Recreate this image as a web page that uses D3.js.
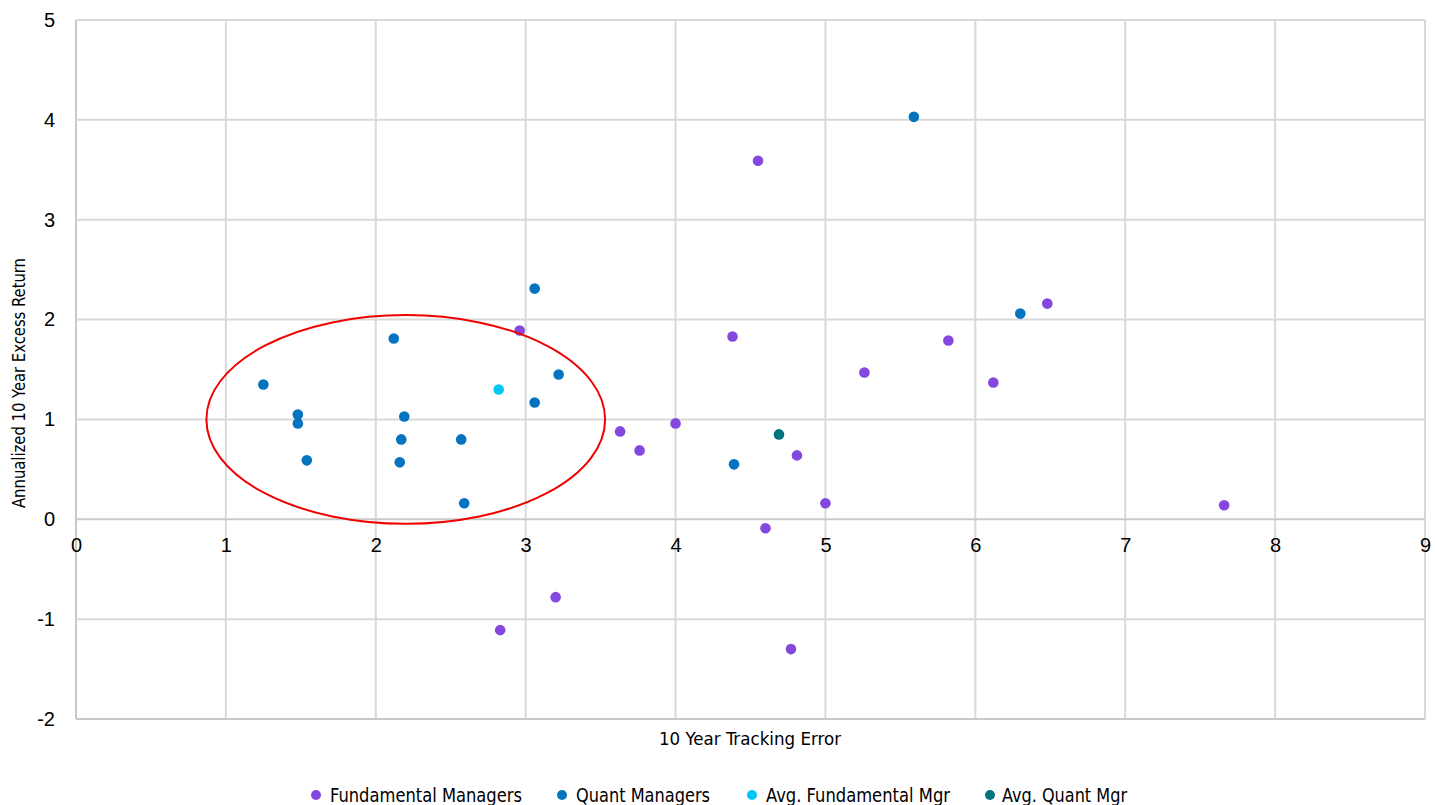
<!DOCTYPE html>
<html>
<head>
<meta charset="utf-8">
<script src="https://d3js.org/d3.v7.min.js"></script>
<style>
  body { margin: 0; background: #fff; }
  svg { display: block; font-family: "Liberation Sans Narrow", "DejaVu Sans Condensed", "Roboto", sans-serif; }
  .tick text { fill: #000; }
</style>
</head>
<body>
<svg width="1435" height="805"></svg>
<script>

// series values: [tracking error, excess return]
var fundamental = [
  [2.96, 1.89], [4.55, 3.59], [4.38, 1.83], [3.63, 0.88], [3.76, 0.69],
  [4.00, 0.96], [4.81, 0.64], [4.60, -0.09], [5.00, 0.16], [5.26, 1.47],
  [5.82, 1.79], [6.12, 1.37], [6.48, 2.16], [7.66, 0.14], [3.20, -0.78],
  [2.83, -1.11], [4.77, -1.30]
];
var quant = [
  [1.25, 1.35], [1.48, 1.05], [1.48, 0.96], [1.54, 0.59], [2.12, 1.81],
  [2.19, 1.03], [2.17, 0.80], [2.16, 0.57], [2.57, 0.80], [2.59, 0.16],
  [3.06, 2.31], [3.06, 1.17], [3.22, 1.45], [4.39, 0.55], [5.59, 4.03],
  [6.30, 2.06]
];
var avgFundamental = [[2.82, 1.30]];
var avgQuant = [[4.69, 0.85]];

var seriesNames = ["Fundamental Managers", "Quant Managers", "Avg. Fundamental Mgr", "Avg. Quant Mgr"];
var seriesColors = ["#8448df", "#0474c0", "#00c8f4", "#00737f"];

var xTicks = [0, 1, 2, 3, 4, 5, 6, 7, 8, 9];
var yTicks = [-2, -1, 0, 1, 2, 3, 4, 5];

// highlighted cluster: centre and half-axes in data units
var circled = { cx: 2.2, cy: 1.0, rx: 1.33, ry: 1.045 };

var svg = d3.select("svg");

var x = d3.scaleLinear().domain([0, 9]).range([76, 1425]);
var y = d3.scaleLinear().domain([-2, 5]).range([719, 20]);

var grid = svg.append("g");

grid.selectAll(".vline")
  .data(xTicks)
  .enter().append("line")
    .attr("x1", function(d) { return x(d); })
    .attr("x2", function(d) { return x(d); })
    .attr("y1", y(5))
    .attr("y2", y(-2))
    .attr("stroke", function(d) { return d == 0 ? "#c9c9c9" : "#d9d9d9"; })
    .attr("stroke-width", 2);

grid.selectAll(".hline")
  .data(yTicks)
  .enter().append("line")
    .attr("x1", x(0))
    .attr("x2", x(9))
    .attr("y1", function(d) { return y(d); })
    .attr("y2", function(d) { return y(d); })
    .attr("stroke", function(d) { return (d == 0 || d == -2) ? "#c9c9c9" : "#d9d9d9"; })
    .attr("stroke-width", 2);

// y axis labels (plain hyphen for negatives, like the original)
svg.append("g")
    .attr("transform", "translate(" + x(0) + ",0)")
    .call(d3.axisLeft(y).tickValues(yTicks).tickSize(0).tickPadding(21).tickFormat(function(d) { return String(d); }))
    .call(function(g) { g.select(".domain").remove(); })
    .selectAll("text")
    .attr("font-size", 20)
    .attr("font-family", null);

// x axis labels sit under the zero line
svg.append("g")
    .attr("transform", "translate(0," + y(0) + ")")
    .call(d3.axisBottom(x).tickValues(xTicks).tickSize(0).tickPadding(19).tickFormat(function(d) { return String(d); }))
    .call(function(g) { g.select(".domain").remove(); })
    .selectAll("text")
    .attr("font-size", 20)
    .attr("font-family", null);

svg.append("text")
    .attr("x", 750)
    .attr("y", 745)
    .attr("text-anchor", "middle")
    .attr("font-size", 18)
    .attr("textLength", 182)
    .attr("lengthAdjust", "spacingAndGlyphs")
    .text("10 Year Tracking Error");

svg.append("text")
    .attr("transform", "translate(25,383) rotate(-90)")
    .attr("text-anchor", "middle")
    .attr("font-size", 18)
    .attr("textLength", 250)
    .attr("lengthAdjust", "spacingAndGlyphs")
    .text("Annualized 10 Year Excess Return");

var allSeries = [fundamental, quant, avgFundamental, avgQuant];

allSeries.forEach(function(s, i) {
  svg.append("g")
    .selectAll("circle")
    .data(s)
    .enter().append("circle")
      .attr("cx", function(d) { return x(d[0]); })
      .attr("cy", function(d) { return y(d[1]); })
      .attr("r", 5.3)
      .attr("fill", seriesColors[i]);
});

svg.append("ellipse")
    .attr("cx", x(circled.cx))
    .attr("cy", y(circled.cy))
    .attr("rx", x(circled.rx) - x(0))
    .attr("ry", y(0) - y(circled.ry))
    .attr("fill", "none")
    .attr("stroke", "#f00000")
    .attr("stroke-width", 2);

// legend
var legendX = [316, 562, 752, 990];
var legendTextX = [330, 576, 766, 1002];
var legendW = [192, 134, 184, 125];
var legend = svg.append("g");

var item = legend.selectAll("g")
  .data(seriesNames)
  .enter().append("g");

item.append("circle")
    .attr("cx", function(d, i) { return legendX[i]; })
    .attr("cy", 795)
    .attr("r", 5)
    .attr("fill", function(d, i) { return seriesColors[i]; });

item.append("text")
    .attr("x", function(d, i) { return legendTextX[i]; })
    .attr("y", 802)
    .attr("font-size", 19)
    .attr("textLength", function(d, i) { return legendW[i]; })
    .attr("lengthAdjust", "spacingAndGlyphs")
    .text(function(d) { return d; });

</script>
</body>
</html>
